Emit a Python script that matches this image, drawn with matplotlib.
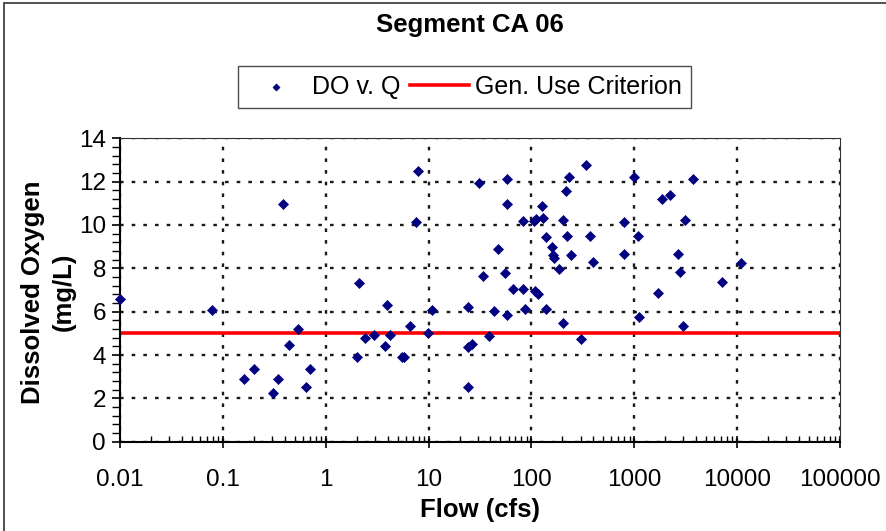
import matplotlib
matplotlib.use("Agg")
import matplotlib.pyplot as plt
from matplotlib.ticker import FixedLocator, LogLocator, NullFormatter, MultipleLocator
from matplotlib.patches import Rectangle
import numpy as np

plt.rcParams['font.family'] = ['Liberation Sans', 'DejaVu Sans']
plt.rcParams['lines.scale_dashes'] = False

title = "Segment CA 06"
x_label = "Flow (cfs)"
y_label = "Dissolved Oxygen\n(mg/L)"
series_name = "DO v. Q"
criterion_name = "Gen. Use Criterion"
criterion_value = 5.0

flow = [0.01, 0.078, 0.16, 0.20, 0.31, 0.34, 0.387, 0.443, 0.535, 0.64, 0.70,
        2.03, 2.12, 2.43, 2.92, 3.79, 3.95, 4.19, 5.47, 5.77, 6.55, 7.5, 7.84,
        9.85, 10.8, 24.0, 24.0, 24.3, 26.2, 31.1, 34.0, 38.9, 42.9, 46.9, 55.7,
        57.5, 57.5, 58.3, 66.7, 82, 83, 87, 106, 108, 112, 115, 126, 130, 139,
        139, 157, 163, 165, 186, 204, 204, 217, 223, 233, 244, 300, 337, 368,
        399, 788, 788, 1000, 1080, 1120, 1687, 1860, 2200, 2637, 2777, 2995,
        3126, 3745, 7066, 10970]
do = [6.58, 6.1, 2.9, 3.35, 2.25, 2.89, 10.95, 4.46, 5.18, 2.51, 3.35,
      3.92, 7.32, 4.77, 4.93, 4.4, 6.32, 4.92, 3.9, 3.9, 5.35, 10.12, 12.47,
      5.0, 6.1, 2.51, 6.22, 4.35, 4.5, 11.95, 7.66, 4.88, 6.03, 8.88, 7.77,
      12.14, 10.97, 5.86, 7.03, 7.05, 10.17, 6.14, 10.17, 6.95, 10.26, 6.8, 10.88, 10.32, 6.14,
      9.43, 8.97, 8.6, 8.48, 7.95, 5.49, 10.23, 11.58, 9.49, 12.23, 8.6, 4.72, 12.77, 9.49,
      8.31, 10.12, 8.66, 12.23, 9.49, 5.75, 6.85, 11.22, 11.4, 8.66, 7.83, 5.35,
      10.23, 12.1, 7.37, 8.23]

x_ticks = [0.01, 0.1, 1, 10, 100, 1000, 10000, 100000]
x_tick_labels = ["0.01", "0.1", "1", "10", "100", "1000", "10000", "100000"]
y_ticks = [0, 2, 4, 6, 8, 10, 12, 14]

W, H = 887, 531
fig = plt.figure(figsize=(W / 100, H / 100), dpi=100)
ax = fig.add_axes([120 / W, 1 - 441.7 / H, 720 / W, (441.7 - 138.3) / H])

ax.set_xscale('log')
ax.set_xlim(x_ticks[0], x_ticks[-1])
ax.set_ylim(y_ticks[0], y_ticks[-1])

grid_kw = dict(color='#1a1a1a', linewidth=1.7, linestyle=(0, (2.6, 5.8)))
ax.xaxis.set_major_locator(FixedLocator(x_ticks))
ax.set_xticklabels(x_tick_labels)
ax.xaxis.set_minor_locator(LogLocator(base=10, subs=np.arange(2, 10), numticks=20))
ax.xaxis.set_minor_formatter(NullFormatter())
ax.yaxis.set_major_locator(FixedLocator(y_ticks))
ax.yaxis.set_minor_locator(MultipleLocator(0.4))
ax.grid(True, which='major', **grid_kw)
ax.set_axisbelow(True)

ax.axhline(criterion_value, color='#ff0000', linewidth=2.6, zorder=2, label=criterion_name)
ax.scatter(flow, do, marker='D', s=26, color='#000080', edgecolors='#000080',
           linewidths=0.5, zorder=3, label=series_name, clip_on=False)

ax.tick_params(axis='x', which='major', direction='inout', length=9, width=1.2,
               labelsize=17.5, pad=15)
ax.tick_params(axis='x', which='minor', direction='in', length=4, width=1.0)
ax.tick_params(axis='y', which='major', direction='out', length=6, width=1.2,
               labelsize=17.5, pad=4)
ax.tick_params(axis='y', which='minor', direction='out', length=6, width=1.0)

for s in ['left', 'bottom']:
    ax.spines[s].set_linewidth(1.5)
for s in ['top', 'right']:
    ax.spines[s].set_linewidth(0.8)
    ax.spines[s].set_color('#333333')

fig.text(470 / W, 1 - 25 / H, title, ha='center', va='center',
         fontsize=18.5, fontweight='bold')
fig.text(480 / W, 1 - 510 / H, x_label, ha='center', va='center',
         fontsize=18.5, fontweight='bold')
fig.text(48 / W, 1 - 292 / H, y_label, ha='center', va='center', rotation=90,
         fontsize=18.5, fontweight='bold', multialignment='center', linespacing=1.35)

handles, labels = ax.get_legend_handles_labels()
order = [labels.index(series_name), labels.index(criterion_name)]
leg = fig.legend([handles[i] for i in order], [labels[i] for i in order],
                 loc='center', bbox_to_anchor=(464.5 / W, 1 - 86.8 / H), ncol=2,
                 fontsize=18, frameon=True, fancybox=False, shadow=False,
                 handlelength=2.36, handletextpad=0.24, columnspacing=0.4,
                 borderpad=0.35, borderaxespad=0, markerscale=0.7)
leg.get_frame().set_edgecolor('#222222')
leg.get_frame().set_linewidth(1.0)

fig.add_artist(Rectangle((4 / W, -0.1), 2, 1 - 3 / H + 0.1, transform=fig.transFigure,
                         fill=False, edgecolor='#333333', linewidth=1.2))

fig.savefig('out.png', dpi=100)
